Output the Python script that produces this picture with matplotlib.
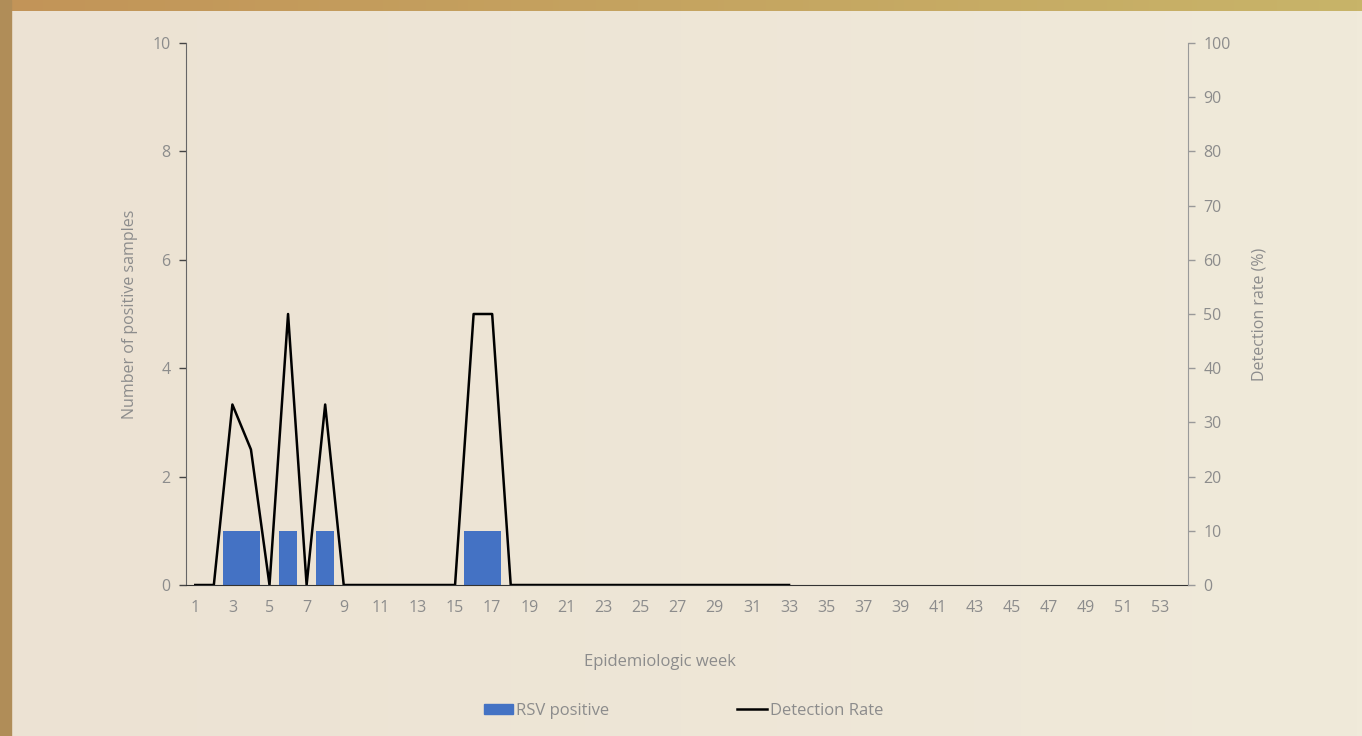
import matplotlib
matplotlib.use("Agg")
import matplotlib.pyplot as plt
import numpy as np
from matplotlib.patches import Rectangle
from matplotlib.lines import Line2D

weeks = list(range(1, 54))
rsv_weeks = [3, 4, 6, 8, 16, 17]
rsv_counts = [1, 1, 1, 1, 1, 1]
rate_weeks = list(range(1, 34))
rate_values = [0, 0, 33.3, 25, 0, 50, 0, 33.3, 0, 0, 0, 0, 0, 0, 0, 50, 50, 0,
               0, 0, 0, 0, 0, 0, 0, 0, 0, 0, 0, 0, 0, 0, 0]
xtick_labels = [str(w) for w in range(1, 54, 2)]

W, H = 1362, 736
fig = plt.figure(figsize=(W/100, H/100), dpi=100)
plt.rcParams['font.family'] = ['Open Sans', 'DejaVu Sans']

# background
bg = fig.add_axes([0, 0, 1, 1], zorder=-10)
bg.set_axis_off()
grad = np.linspace(0, 1, 256)
c1 = np.array([236, 226, 211]) / 255
c2 = np.array([240, 234, 218]) / 255
img = np.array([[c1 + (c2 - c1) * g for g in grad]] * 2)
bg.imshow(img, extent=[0, 1, 0, 1], aspect='auto')
t1 = np.array([194, 148, 88]) / 255
t2 = np.array([200, 180, 105]) / 255
topc = np.array([[t1 + (t2 - t1) * g for g in grad]] * 2)
bg.imshow(topc, extent=[0, 1, 1 - 11/H, 1], aspect='auto')
bg.add_patch(Rectangle((0, 0), 11/W, 1, color='#B08D58', transform=bg.transAxes))
bg.set_xlim(0, 1); bg.set_ylim(0, 1)

ax = fig.add_axes([186/W, 1 - 585/H, (1188-186)/W, (585-43)/H])
ax.patch.set_alpha(0)
tc = '#8c8c8c'
ax.bar(rsv_weeks, rsv_counts, width=1.0, color='#4472C4', edgecolor='none', zorder=2)
ax.set_xlim(0.5, 54.5)
ax.set_ylim(0, 10)
ax.set_yticks([0, 2, 4, 6, 8, 10])
ax.set_xticks(list(range(1, 54, 2)))
ax.set_xticklabels(xtick_labels)
ax.tick_params(axis='x', length=0, pad=11, labelsize=11.5, labelcolor=tc)
ax.tick_params(axis='y', length=5, width=1, color='#444444', labelsize=11.5, labelcolor=tc, pad=6)
for s in ['top', 'right']:
    ax.spines[s].set_visible(False)
ax.spines['left'].set_color('#666666')
ax.spines['bottom'].set_color('#333333')
ax.set_ylabel('Number of positive samples', color=tc, fontsize=11.5)
ax.yaxis.set_label_coords((138 - 186) / 1002, 0.5)
ax.set_xlabel('Epidemiologic week', color=tc, fontsize=12)
ax.xaxis.set_label_coords((660 - 186) / 1002, -(654 - 585) / 542)

ax2 = ax.twinx()
ax2.plot(rate_weeks, rate_values, color='black', linewidth=1.8, zorder=3)
ax2.set_ylim(0, 100)
ax2.set_yticks(range(0, 101, 10))
ax2.tick_params(axis='y', length=5, width=1, color='#999999', labelsize=11.5, labelcolor=tc, pad=6)
for s in ['top', 'left', 'bottom']:
    ax2.spines[s].set_visible(False)
ax2.spines['right'].set_color('#999999')
ax2.set_ylabel('Detection rate (%)', color=tc, fontsize=11.5)
ax2.yaxis.set_label_coords((1251 - 186) / 1002, 0.5)

handles = [Rectangle((0, 0), 1, 1, color='#4472C4'), Line2D([0], [0], color='black', lw=1.8)]
fig.legend(handles, ['RSV positive', 'Detection Rate'], loc='center', bbox_to_anchor=(0.5018, 1 - 711/H),
           ncol=2, frameon=False, fontsize=12, labelcolor=tc, columnspacing=7.7, handlelength=1.75, handletextpad=0.2,
           handleheight=0.6)

fig.savefig('out.png', dpi=100)
